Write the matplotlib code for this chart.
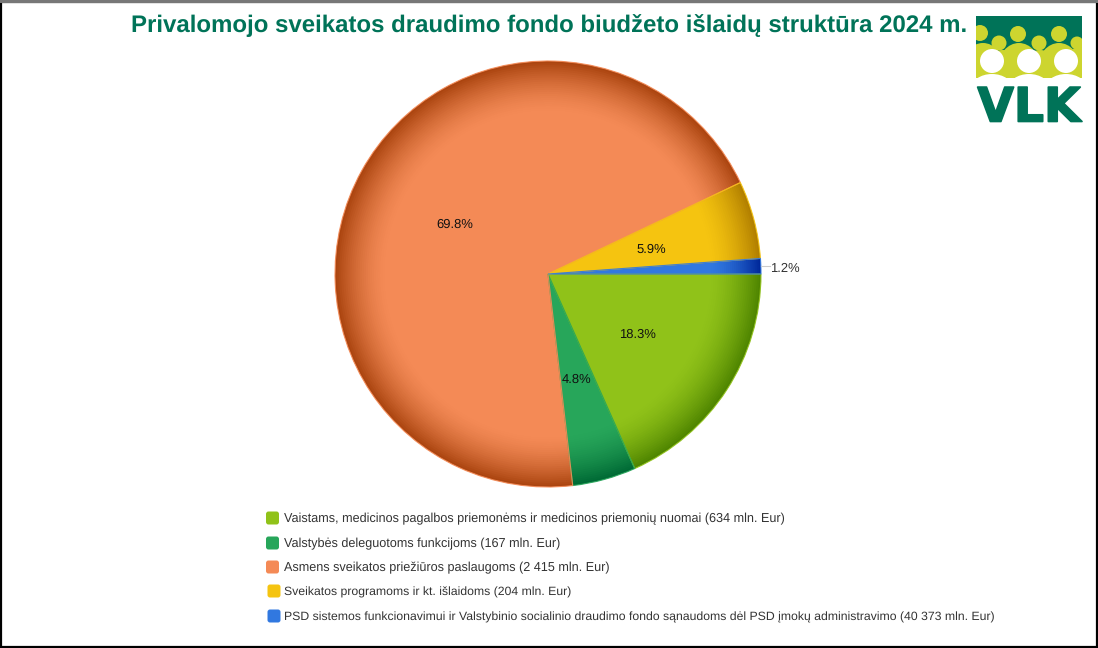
import numpy as np
import matplotlib
matplotlib.use('Agg')
import matplotlib.pyplot as plt
import matplotlib.patheffects as pe
from matplotlib.patches import Circle, Ellipse, FancyBboxPatch, Rectangle
from matplotlib.colors import to_rgb

plt.rcParams['font.family'] = ['Liberation Sans', 'DejaVu Sans']
plt.rcParams['text.hinting'] = 'none'

# data
labels = ['Vaistams, medicinos pagalbos priemonėms ir medicinos priemonių nuomai (634 mln. Eur)',
          'Valstybės deleguotoms funkcijoms (167 mln. Eur)',
          'Asmens sveikatos priežiūros paslaugoms (2 415 mln. Eur)',
          'Sveikatos programoms ir kt. išlaidoms (204 mln. Eur)',
          'PSD sistemos funkcionavimui ir Valstybinio socialinio draudimo fondo sąnaudoms dėl PSD įmokų administravimo (40 373 mln. Eur)']
values = [634, 167, 2415, 204, 40.373]
colors = ['#90c219', '#27a65a', '#f48a56', '#f5c410', '#3178e0']
rim_colors = ['#4f8500', '#006a35', '#ab4510', '#b27f00', '#00289a']
title = 'Privalomojo sveikatos draudimo fondo biudžeto išlaidų struktūra 2024 m.'
green = '#007358'
lime = '#cdd52f'

W, H = 1098, 648
fig = plt.figure(figsize=(W / 100, H / 100), dpi=100)

# pixel layer for title, legend, logo and frame
bg = fig.add_axes([0, 0, 1, 1])
bg.set_xlim(0, W)
bg.set_ylim(H, 0)
bg.axis('off')

# pie, centre 548,274 and radius 213 px
R = 213
lim = 1.25
size = 2 * lim * R
ax = fig.add_axes([(548 - size / 2) / W, 1 - (274 + size / 2) / H, size / W, size / H])


def fmt(p):
    return '' if p < 2 else '%.1f%%' % p


# rim shading: stacked pies going from the dark edge to the flat colour
for r in np.linspace(1, 0.76, 26):
    t = ((r - 0.76) / 0.24) ** 1.6
    cols = [tuple((1 - t) * np.array(to_rgb(c)) + t * np.array(to_rgb(d)))
            for c, d in zip(colors, rim_colors)]
    ax.pie(values, radius=r, colors=cols, startangle=0, counterclock=False,
           wedgeprops={'linewidth': 0})

wedges, _, autotexts = ax.pie(values, radius=0.76, colors=colors, startangle=0, counterclock=False,
                              wedgeprops={'linewidth': 0}, autopct=fmt, pctdistance=0.5 / 0.76,
                              textprops={'fontsize': 9.4, 'color': '#111111'})
for t in autotexts:
    px, py = t.get_position()
    t.set_position((px, py - 2.5 / R))

# thin light edge around each slice
ax.pie(values, radius=1, colors=['none'] * 5, startangle=0, counterclock=False,
       wedgeprops={'linewidth': 0.8, 'edgecolor': 'none'})
for w, c in zip(ax.patches[-5:], colors):
    w.set_edgecolor(c)
    w.set_alpha(0.9)
    w.set_facecolor('none')

# small slice is labelled outside the pie
small = 100 * values[4] / sum(values)
ang = np.deg2rad(360 * values[4] / sum(values) / 2)
ax.plot([np.cos(ang), 1.04], [np.sin(ang), np.sin(ang)], color='#cccccc', lw=0.8)
ax.text(1.043, np.sin(ang) - 2 / R, '%.1f%%' % small, va='center', ha='left', fontsize=9.4, color='#333333')
ax.set_xlim(-lim, lim)
ax.set_ylim(-lim, lim)

# title
bg.text(549.5, 26, title, ha='center', va='center', fontsize=17.3, fontweight='bold', color=green)

# legend
leg_y = [519, 544, 568, 592, 617]
leg_x = [266, 266, 266, 267.5, 267.5]
leg_size = [9.07, 9.07, 9.07, 8.87, 8.87]
leg_off = [18, 18, 18, 17, 17]
for y, x, fs, off, lab, c in zip(leg_y, leg_x, leg_size, leg_off, labels, colors):
    bg.add_patch(FancyBboxPatch((x + 2, y - 5.5), 9, 9, boxstyle='round,pad=2,rounding_size=2.5',
                                fc=c, ec='none'))
    bg.text(x + off, y, lab, va='center', ha='left', fontsize=fs, color='#333333')

# logo
box = Rectangle((976, 16), 106, 61.5, fc=green, ec='none', zorder=2)
bg.add_patch(box)
for cx, cy, rad in [(980, 33, 8), (1018, 34, 8), (999, 43, 7.5), (1039, 43, 7.5), (1059, 34, 8), (1077, 43, 6.5)]:
    c = Circle((cx, cy), rad, fc=lime, ec='none', zorder=3)
    bg.add_patch(c)
    c.set_clip_path(box)
for cx, cy in [(983, 68), (1019, 68), (1059, 68), (1081, 72), (1003, 75), (1040, 75)]:
    e = Ellipse((cx, cy), 42, 50, fc=lime, ec='none', zorder=3)
    bg.add_patch(e)
    e.set_clip_path(box)
bg.add_patch(Rectangle((976, 56), 106, 21.5, fc=lime, ec='none', zorder=3))
for cx in [992, 1029, 1066]:
    bg.add_patch(Circle((cx, 61), 12, fc='white', ec='none', zorder=5))
    e = Ellipse((cx, 89), 42, 30, fc='white', ec='none', zorder=4)
    bg.add_patch(e)
    e.set_clip_path(box)
vlk = bg.text(1029, 121.5, 'VLK', ha='center', va='baseline', fontsize=34, fontweight='bold',
              family='DejaVu Sans', color=green, zorder=6)
vlk.set_path_effects([pe.withStroke(linewidth=1.2, foreground=green)])

# frame
bg.add_patch(Rectangle((1, 1.5), W - 2, H - 3, fc='none', ec='black', lw=1.6, zorder=10))
bg.add_patch(Rectangle((0, 0), W, 2.5, fc='#777777', ec='none', zorder=11))

fig.savefig('out.png', dpi=100)
